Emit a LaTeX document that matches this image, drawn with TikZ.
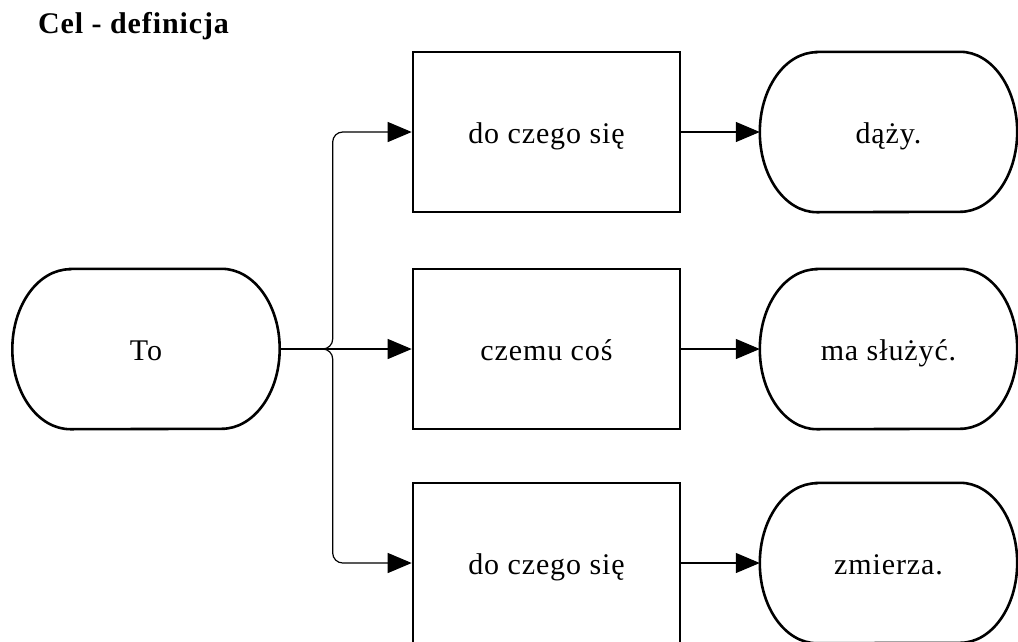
\documentclass[tikz,border=0pt]{standalone}
\usepackage{fontspec}
\setmainfont{Liberation Serif}
\usetikzlibrary{arrows.meta}
\tikzset{
  bodyfont/.style={font=\fontsize{30}{36}\selectfont\addfontfeatures{LetterSpace=3}, text height=29pt, text depth=7pt},
  boxshape/.style={draw=black, line width=2.6pt, minimum width=267pt, minimum height=160pt, inner sep=0pt, bodyfont},
  stadshape/.style={draw=none, minimum width=#1, minimum height=160pt, inner sep=0pt, bodyfont},
  stadline/.style={line width=2.6pt, draw=black},
  conn/.style={line width=1.2pt, -{Triangle[length=24pt,width=20pt]}},
  titletext/.style={font=\fontsize{30}{36}\selectfont\bfseries\addfontfeatures{LetterSpace=3}, inner sep=0pt, anchor=base west}
}
\newcommand\stadpath[3]{% node, x radius, y radius
  \draw[stadline] ([xshift=#2]#1.north west) -- ([xshift=-#2]#1.north east)
    arc[start angle=90, end angle=-90, x radius=#2, y radius=#3]
    -- ([xshift=#2]#1.south west)
    arc[start angle=270, end angle=90, x radius=#2, y radius=#3] -- cycle;}
\begin{document}
\begin{tikzpicture}[x=1pt,y=-1pt]
\useasboundingbox (0,0) rectangle (1018,641);
\clip (0,0) rectangle (1018,641);
\fill[white] (0,0) rectangle (1018,641);
\node[titletext] (title) at (38,33) {Cel - definicja};
\node[stadshape=267pt] (to) at (146,349) {To};
\stadpath{to}{58pt}{80pt}
\node[boxshape] (b1) at (546.5,132) {do czego się};
\node[boxshape] (b2) at (546.5,349) {czemu coś};
\node[boxshape] (b3) at (546.5,563) {do czego się};
\node[stadshape=257pt] (s1) at (888.5,132) {dąży.};
\node[stadshape=257pt] (s2) at (888.5,349) {ma służyć.};
\node[stadshape=257pt] (s3) at (888.5,563) {zmierza.};
\stadpath{s1}{57pt}{80pt}
\stadpath{s2}{57pt}{80pt}
\stadpath{s3}{57pt}{80pt}
\draw[conn, rounded corners=10pt] (to.east) -- ++(53,0) |- (b1.west);
\draw[conn] (to.east) -- (b2.west);
\draw[conn, rounded corners=10pt] (to.east) -- ++(53,0) |- (b3.west);
\draw[conn] (b1.east) -- (s1.west);
\draw[conn] (b2.east) -- (s2.west);
\draw[conn] (b3.east) -- (s3.west);
\end{tikzpicture}
\end{document}
